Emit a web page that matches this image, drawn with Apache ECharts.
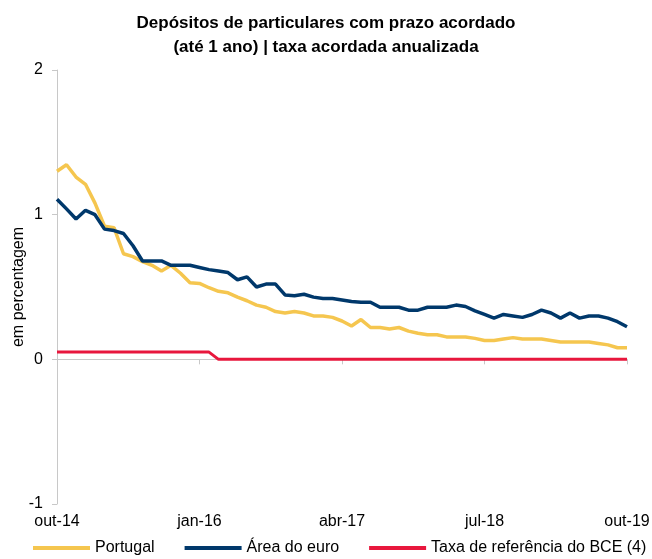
<!DOCTYPE html>
<html>
<head>
<meta charset="utf-8">
<script src="https://cdn.jsdelivr.net/npm/echarts@6/dist/echarts.min.js"></script>
<style>
  html, body { margin: 0; padding: 0; background: #fff; }
  #chart { width: 652px; height: 559px; }
</style>
</head>
<body>
<div id="chart"></div>
<script>
// Monthly observations, out-14 .. out-19
const months = [
  'out-14','nov-14','dez-14',
  'jan-15','fev-15','mar-15','abr-15','mai-15','jun-15','jul-15','ago-15','set-15','out-15','nov-15','dez-15',
  'jan-16','fev-16','mar-16','abr-16','mai-16','jun-16','jul-16','ago-16','set-16','out-16','nov-16','dez-16',
  'jan-17','fev-17','mar-17','abr-17','mai-17','jun-17','jul-17','ago-17','set-17','out-17','nov-17','dez-17',
  'jan-18','fev-18','mar-18','abr-18','mai-18','jun-18','jul-18','ago-18','set-18','out-18','nov-18','dez-18',
  'jan-19','fev-19','mar-19','abr-19','mai-19','jun-19','jul-19','ago-19','set-19','out-19'
];

// Agreed annualised rate, deposits up to 1 year (%)
const portugal = [
  1.30, 1.345, 1.26, 1.21, 1.08, 0.92, 0.91, 0.73, 0.71, 0.675,
  0.65, 0.61, 0.65, 0.595, 0.53, 0.525, 0.495, 0.47, 0.46, 0.43,
  0.405, 0.375, 0.36, 0.33, 0.32, 0.33, 0.32, 0.30, 0.30, 0.29,
  0.265, 0.23, 0.275, 0.22, 0.22, 0.21, 0.22, 0.195, 0.18, 0.17,
  0.17, 0.155, 0.155, 0.155, 0.145, 0.13, 0.13, 0.14, 0.15, 0.14,
  0.14, 0.14, 0.13, 0.12, 0.12, 0.12, 0.12, 0.11, 0.10, 0.08,
  0.08
];

const areaEuro = [
  1.107, 1.04, 0.97, 1.03, 1.00, 0.90, 0.89, 0.87, 0.785, 0.68,
  0.68, 0.68, 0.65, 0.65, 0.65, 0.635, 0.62, 0.61, 0.60, 0.55,
  0.57, 0.50, 0.52, 0.52, 0.445, 0.44, 0.45, 0.43, 0.42, 0.42,
  0.41, 0.40, 0.395, 0.395, 0.36, 0.36, 0.36, 0.34, 0.34, 0.36,
  0.36, 0.36, 0.375, 0.365, 0.335, 0.31, 0.285, 0.31, 0.30, 0.29,
  0.31, 0.34, 0.32, 0.285, 0.32, 0.285, 0.30, 0.30, 0.285, 0.26,
  0.225
];

// ECB main refinancing rate
const taxaBCE = [
  0.05, 0.05, 0.05, 0.05, 0.05, 0.05, 0.05, 0.05, 0.05, 0.05,
  0.05, 0.05, 0.05, 0.05, 0.05, 0.05, 0.05, 0.00, 0.00, 0.00,
  0.00, 0.00, 0.00, 0.00, 0.00, 0.00, 0.00, 0.00, 0.00, 0.00,
  0.00, 0.00, 0.00, 0.00, 0.00, 0.00, 0.00, 0.00, 0.00, 0.00,
  0.00, 0.00, 0.00, 0.00, 0.00, 0.00, 0.00, 0.00, 0.00, 0.00,
  0.00, 0.00, 0.00, 0.00, 0.00, 0.00, 0.00, 0.00, 0.00, 0.00,
  0.00
];

const seriesNames = ['Portugal', 'Área do euro', 'Taxa de referência do BCE (4)'];
const seriesColors = ['#F5C64F', '#00386B', '#E8173D'];

const FONT = "'Liberation Sans', Arial, sans-serif";
const AXIS_GREY = '#c8c8c8';

const chart = echarts.init(document.getElementById('chart'), null, { renderer: 'canvas' });

chart.setOption({
  animation: false,
  backgroundColor: '#ffffff',
  textStyle: { fontFamily: FONT },
  title: {
    text: 'Depósitos de particulares com prazo acordado\n(até 1 ano) | taxa acordada anualizada',
    left: 'center',
    top: 6,
    textStyle: {
      fontFamily: FONT,
      fontWeight: 'bold',
      fontSize: 17,
      lineHeight: 24,
      color: '#000'
    }
  },
  legend: {
    left: 33,
    bottom: 3,
    padding: 0,
    width: 619,
    itemGap: 30,
    itemWidth: 57,
    itemHeight: 4,
    icon: 'rect',
    textStyle: { fontFamily: FONT, fontSize: 16, color: '#000' },
    data: seriesNames
  },
  grid: { left: 57, right: 25, top: 70, bottom: 55, outerBoundsMode: 'none', containLabel: false },
  xAxis: [
    {
      type: 'category',
      data: months,
      boundaryGap: false,
      position: 'bottom',
      axisLine: { show: false, onZero: false },
      axisTick: { show: false },
      axisLabel: {
        interval: 14,
        margin: 10,
        fontFamily: FONT,
        fontSize: 16,
        color: '#000'
      },
      splitLine: { show: false }
    },
    {
      // zero line with month ticks
      type: 'category',
      data: months,
      boundaryGap: false,
      position: 'top',
      axisLine: { show: true, onZero: true, lineStyle: { color: AXIS_GREY, width: 1 } },
      axisTick: { show: true, interval: 14, inside: true, length: 5, lineStyle: { color: AXIS_GREY } },
      axisLabel: { show: false },
      splitLine: { show: false }
    }
  ],
  yAxis: {
    type: 'value',
    min: -1,
    max: 2,
    interval: 1,
    name: 'em percentagem',
    nameLocation: 'middle',
    nameGap: 30,
    nameMoveOverlap: false,
    nameTextStyle: { fontFamily: FONT, fontSize: 16, color: '#000' },
    axisLine: { show: true, lineStyle: { color: AXIS_GREY, width: 1 } },
    axisTick: { show: true, length: 5, lineStyle: { color: AXIS_GREY } },
    axisLabel: { margin: 14, fontFamily: FONT, fontSize: 16, color: '#000' },
    splitLine: { show: false }
  },
  series: [
    {
      name: seriesNames[0],
      type: 'line',
      data: portugal,
      xAxisIndex: 0,
      showSymbol: false,
      symbol: 'none',
      color: seriesColors[0],
      lineStyle: { width: 3.5, color: seriesColors[0] },
      z: 3
    },
    {
      name: seriesNames[1],
      type: 'line',
      data: areaEuro,
      xAxisIndex: 0,
      showSymbol: false,
      symbol: 'none',
      color: seriesColors[1],
      lineStyle: { width: 3.5, color: seriesColors[1] },
      z: 4
    },
    {
      name: seriesNames[2],
      type: 'line',
      data: taxaBCE,
      xAxisIndex: 0,
      showSymbol: false,
      symbol: 'none',
      color: seriesColors[2],
      lineStyle: { width: 3, color: seriesColors[2] },
      z: 5
    }
  ]
});
</script>
</body>
</html>
